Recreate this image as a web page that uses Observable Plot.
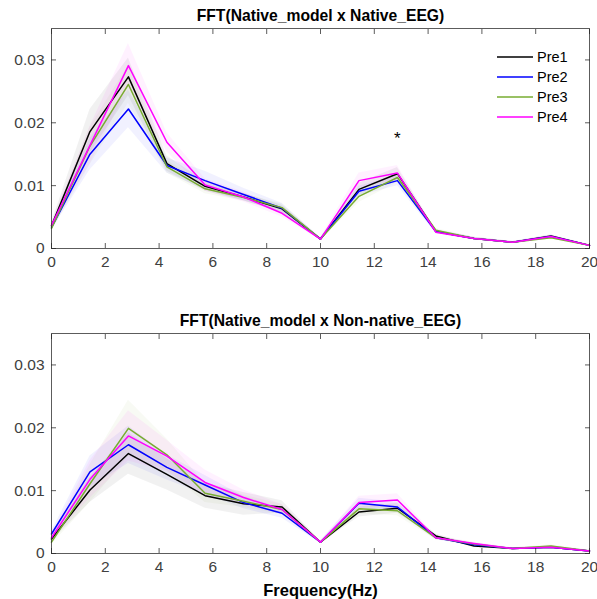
<!DOCTYPE html>
<html>
<head>
<meta charset="utf-8">
<script src="https://cdn.jsdelivr.net/npm/d3@7"></script>
<script src="https://cdn.jsdelivr.net/npm/@observablehq/plot@0.6"></script>
<style>
  body { margin: 0; background: #fff; font-family: "Liberation Sans", Arial, sans-serif; }
  #wrap { position: relative; width: 597px; height: 599px; overflow: hidden; }
  .panel { position: absolute; left: 0; }
  .legend { position: absolute; left: 497px; top: 47px; font: 14.5px "Liberation Sans", Arial, sans-serif; color: #000; }
  .legend .row { height: 20px; display: flex; align-items: center; }
  .legend svg { margin-right: 4px; }
</style>
</head>
<body>
<div id="wrap"></div>
<script>
// ---- data ----
const freq = [0, 1.43, 2.86, 4.29, 5.71, 7.14, 8.57, 10, 11.43, 12.86, 14.29, 15.71, 17.14, 18.57, 20];
const seriesNames = ["Pre1", "Pre2", "Pre3", "Pre4"];
const seriesColors = ["#000000", "#0000ff", "#77ac30", "#ff00ff"];

// Panel 1: FFT(Native_model x Native_EEG)
const nat_pre1 = [0.0036, 0.0186, 0.0273, 0.0135, 0.0099, 0.0082, 0.0063, 0.0015, 0.0094, 0.0119, 0.0027, 0.0016, 0.0010, 0.0020, 0.0005];
const nat_pre2 = [0.0033, 0.0150, 0.0222, 0.0132, 0.0108, 0.0086, 0.0064, 0.0015, 0.0091, 0.0108, 0.0027, 0.0016, 0.0010, 0.0019, 0.0005];
const nat_pre3 = [0.0032, 0.0163, 0.0261, 0.0130, 0.0095, 0.0081, 0.0065, 0.0015, 0.0083, 0.0113, 0.0029, 0.0016, 0.0010, 0.0017, 0.0005];
const nat_pre4 = [0.0037, 0.0164, 0.0291, 0.0169, 0.0101, 0.0082, 0.0056, 0.0015, 0.0108, 0.0120, 0.0026, 0.0016, 0.0010, 0.0019, 0.0005];
const nat_err1 = [0.0004, 0.0035, 0.0030, 0.0012, 0.0008, 0.0006, 0.0006, 0.0002, 0.0010, 0.0010, 0.0003, 0.0002, 0.0001, 0.0002, 0.0001];
const nat_err2 = [0.0004, 0.0025, 0.0030, 0.0012, 0.0015, 0.0010, 0.0008, 0.0002, 0.0008, 0.0008, 0.0003, 0.0002, 0.0001, 0.0002, 0.0001];
const nat_err3 = [0.0004, 0.0030, 0.0030, 0.0010, 0.0008, 0.0006, 0.0006, 0.0002, 0.0010, 0.0008, 0.0003, 0.0002, 0.0001, 0.0002, 0.0001];
const nat_err4 = [0.0004, 0.0030, 0.0035, 0.0015, 0.0010, 0.0008, 0.0006, 0.0002, 0.0012, 0.0012, 0.0003, 0.0002, 0.0001, 0.0002, 0.0001];
const nat_sig = [{x: 12.86, y: 0.0175, label: "*"}];

// Panel 2: FFT(Native_model x Non-native_EEG)
const non_pre1 = [0.0023, 0.0101, 0.0159, 0.0126, 0.0092, 0.0079, 0.0074, 0.0018, 0.0066, 0.0072, 0.0028, 0.0012, 0.0008, 0.0010, 0.0004];
const non_pre2 = [0.0031, 0.0130, 0.0173, 0.0137, 0.0109, 0.0081, 0.0064, 0.0018, 0.0080, 0.0074, 0.0025, 0.0014, 0.0008, 0.0010, 0.0004];
const non_pre3 = [0.0018, 0.0111, 0.0199, 0.0157, 0.0096, 0.0083, 0.0070, 0.0018, 0.0071, 0.0068, 0.0025, 0.0015, 0.0008, 0.0012, 0.0004];
const non_pre4 = [0.0025, 0.0118, 0.0187, 0.0155, 0.0113, 0.0089, 0.0070, 0.0018, 0.0081, 0.0085, 0.0025, 0.0016, 0.0008, 0.0010, 0.0004];
const non_err1 = [0.0004, 0.0020, 0.0033, 0.0025, 0.0020, 0.0018, 0.0010, 0.0002, 0.0008, 0.0008, 0.0003, 0.0002, 0.0001, 0.0002, 0.0001];
const non_err2 = [0.0004, 0.0025, 0.0030, 0.0020, 0.0015, 0.0010, 0.0008, 0.0002, 0.0008, 0.0008, 0.0003, 0.0002, 0.0001, 0.0002, 0.0001];
const non_err3 = [0.0004, 0.0030, 0.0045, 0.0025, 0.0015, 0.0010, 0.0008, 0.0002, 0.0008, 0.0008, 0.0003, 0.0002, 0.0001, 0.0002, 0.0001];
const non_err4 = [0.0004, 0.0030, 0.0040, 0.0025, 0.0020, 0.0012, 0.0008, 0.0002, 0.0010, 0.0010, 0.0003, 0.0002, 0.0001, 0.0002, 0.0001];

const xTicks = [0, 2, 4, 6, 8, 10, 12, 14, 16, 18, 20];
const yTicks = [0, 0.01, 0.02, 0.03];
const yTickLabels = ["0", "0.01", "0.02", "0.03"];
const titles = ["FFT(Native_model x Native_EEG)", "FFT(Native_model x Non-native_EEG)"];
const xLabel = "Frequency(Hz)";

function buildRows(vals, errs) {
  const rows = [];
  vals.forEach((arr, si) => arr.forEach((v, i) => rows.push({
    series: seriesNames[si], f: freq[i], v, lo: v - errs[si][i], hi: v + errs[si][i]
  })));
  return rows;
}

const axisColor = "#262626";
const font = "'Liberation Sans', Arial, sans-serif";

function panel({rows, title, height, marginTop, marginBottom, sig, showXLabel}) {
  const marks = [
    Plot.areaY(rows, {x: "f", y1: "lo", y2: "hi", z: "series", fill: "series", fillOpacity: 0.055}),
    Plot.lineY(rows, {x: "f", y: "v", z: "series", stroke: "series", strokeWidth: 1.5}),
    Plot.frame({stroke: axisColor, strokeOpacity: 0.75}),
    // inward ticks on all four sides
    Plot.axisX({anchor: "bottom", ticks: xTicks, tickSize: -5, fill: "none", stroke: axisColor, strokeOpacity: 0.75, label: null}),
    Plot.axisX({anchor: "top", ticks: xTicks, tickSize: -5, fill: "none", stroke: axisColor, strokeOpacity: 0.75, label: null}),
    Plot.axisY({anchor: "left", ticks: yTicks, tickSize: -5, fill: "none", stroke: axisColor, strokeOpacity: 0.75, label: null}),
    Plot.axisY({anchor: "right", ticks: yTicks, tickSize: -5, fill: "none", stroke: axisColor, strokeOpacity: 0.75, label: null}),
    // tick labels
    Plot.axisX({anchor: "bottom", ticks: xTicks, tickSize: 0, tickPadding: 7, fontSize: 15.5, fill: "#404040", label: null, tickFormat: d => String(d)}),
    Plot.axisY({anchor: "left", ticks: yTicks, tickSize: 0, tickPadding: 7, fontSize: 15.5, fill: "#404040", label: null,
      tickFormat: d => yTickLabels[yTicks.indexOf(d)]}),
    Plot.text([title], {frameAnchor: "top", dy: -13, text: d => d, fontSize: 15.7, fontWeight: "bold", fill: "#000", lineAnchor: "middle"})
  ];
  if (sig) marks.push(Plot.text(sig, {x: "x", y: "y", text: "label", fontSize: 17, fill: "#000"}));
  if (showXLabel) marks.push(Plot.text([xLabel], {frameAnchor: "bottom", dy: 37, text: d => d, fontSize: 16.5, fontWeight: "bold", fill: "#000", lineAnchor: "middle"}));
  return Plot.plot({
    width: 597, height,
    marginLeft: 51, marginRight: 8, marginTop, marginBottom,
    style: {fontFamily: font, background: "transparent", overflow: "visible"},
    x: {domain: [0, 20]},
    y: {domain: [0, 0.035]},
    color: {domain: seriesNames, range: seriesColors},
    marks
  });
}

const wrap = document.getElementById("wrap");
const p1 = panel({rows: buildRows([nat_pre1, nat_pre2, nat_pre3, nat_pre4], [nat_err1, nat_err2, nat_err3, nat_err4]),
  title: titles[0], height: 275, marginTop: 28, marginBottom: 27, sig: nat_sig, showXLabel: false});
p1.classList.add("panel"); p1.style.top = "0px";
wrap.appendChild(p1);

const p2 = panel({rows: buildRows([non_pre1, non_pre2, non_pre3, non_pre4], [non_err1, non_err2, non_err3, non_err4]),
  title: titles[1], height: 299, marginTop: 33, marginBottom: 46, sig: null, showXLabel: true});
p2.classList.add("panel"); p2.style.top = "300px";
wrap.appendChild(p2);

// legend (top panel, no box)
const leg = document.createElement("div");
leg.className = "legend";
seriesNames.forEach((n, i) => {
  const row = document.createElement("div");
  row.className = "row";
  row.innerHTML = `<svg width="36" height="4"><line x1="0" y1="2" x2="36" y2="2" stroke="${seriesColors[i]}" stroke-width="1.5"/></svg><span>${n}</span>`;
  leg.appendChild(row);
});
wrap.appendChild(leg);
</script>
</body>
</html>
